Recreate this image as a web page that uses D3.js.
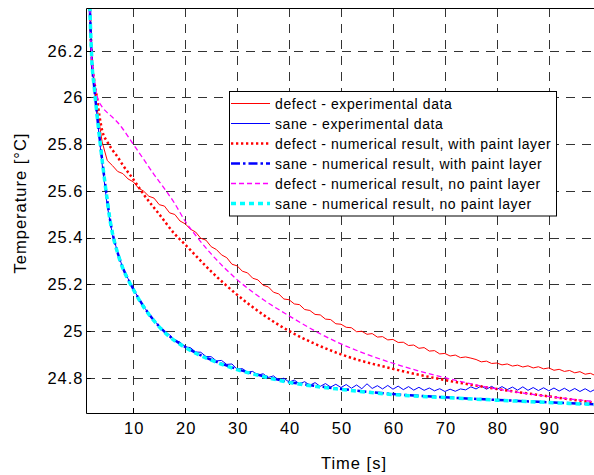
<!DOCTYPE html>
<html><head><meta charset="utf-8">
<script src="https://cdn.jsdelivr.net/npm/d3@7"></script>
<style>
body{margin:0;background:#fff}
text{font-family:"Liberation Sans",Arial,Helvetica,sans-serif;fill:#000}
</style>
</head><body>
<svg id="chart" width="594" height="475"></svg>
<script>
// ---------------- data ----------------
const xTickValues = [10, 20, 30, 40, 50, 60, 70, 80, 90];
const yTickValues = [24.8, 25, 25.2, 25.4, 25.6, 25.8, 26, 26.2];
const xLabel = "Time [s]";
const yLabel = "Temperature [°C]";
const seriesNames = [
  "defect - experimental data",
  "sane - experimental data",
  "defect - numerical result, with paint layer",
  "sane - numerical result, with paint layer",
  "defect - numerical result, no paint layer",
  "sane - numerical result, no paint layer"
];

// experimental data, sampled every second from t = 1 s
const expTime = d3.range(1, 101);
const defectExp = [
  26.90, 26.17, 25.96, 25.81, 25.73, 25.708, 25.683, 25.674, 25.651, 25.639,
  25.612, 25.599, 25.577, 25.569, 25.541, 25.535, 25.506, 25.499, 25.471, 25.459,
  25.436, 25.424, 25.397, 25.389, 25.361, 25.349, 25.326, 25.314, 25.286, 25.279,
  25.256, 25.249, 25.226, 25.219, 25.196, 25.189, 25.166, 25.159, 25.137, 25.134,
  25.116, 25.113, 25.092, 25.088, 25.071, 25.069, 25.051, 25.049, 25.031, 25.029,
  25.016, 25.014, 24.997, 24.999, 24.986, 24.989, 24.974, 24.976, 24.962, 24.964,
  24.951, 24.952, 24.938, 24.940, 24.926, 24.929, 24.914, 24.916, 24.902, 24.904,
  24.893, 24.897, 24.886, 24.889, 24.884, 24.878, 24.868, 24.871, 24.861, 24.863,
  24.855, 24.859, 24.850, 24.854, 24.846, 24.851, 24.842, 24.847, 24.838, 24.842,
  24.832, 24.836, 24.827, 24.831, 24.821, 24.826, 24.815, 24.819, 24.809, 24.813
];
const saneExp = [
  26.95, 26.15, 25.925, 25.715, 25.535, 25.412, 25.338, 25.268, 25.224, 25.178,
  25.143, 25.102, 25.079, 25.042, 25.024, 24.997, 24.984, 24.960, 24.953, 24.932,
  24.929, 24.910, 24.909, 24.891, 24.890, 24.872, 24.874, 24.857, 24.859, 24.836,
  24.839, 24.824, 24.827, 24.811, 24.817, 24.801, 24.808, 24.790, 24.798, 24.781,
  24.790, 24.774, 24.783, 24.768, 24.779, 24.763, 24.775, 24.760, 24.772, 24.758,
  24.771, 24.755, 24.769, 24.753, 24.774, 24.754, 24.766, 24.752, 24.767, 24.751,
  24.764, 24.749, 24.762, 24.747, 24.759, 24.746, 24.756, 24.744, 24.753, 24.741,
  24.751, 24.742, 24.752, 24.748, 24.761, 24.752, 24.765, 24.751, 24.763, 24.750,
  24.762, 24.749, 24.760, 24.747, 24.761, 24.746, 24.758, 24.745, 24.757, 24.744,
  24.756, 24.743, 24.755, 24.742, 24.754, 24.741, 24.753, 24.740, 24.751, 24.742
];

// numerical results
const defectPaintTime = [1, 1.5, 2, 2.5, 3, 3.5, 4, 5, 6, 7, 8, 10, 12, 15, 18, 20, 25, 30, 35, 40, 45, 50, 60, 70, 80, 90, 100];
const defectPaint     = [27.0, 26.5, 26.17, 26.07, 26.0, 25.92, 25.86, 25.81, 25.775, 25.745, 25.71, 25.65, 25.585, 25.50, 25.415, 25.37, 25.255, 25.155, 25.07, 25.0, 24.945, 24.90, 24.838, 24.79, 24.752, 24.72, 24.69];

const sanePaintTime = [1, 1.5, 2, 2.5, 3, 3.5, 4, 4.5, 5, 5.5, 6, 7, 8, 9, 10, 12, 14, 16, 18, 20, 22, 25, 30, 35, 40, 45, 50, 60, 70, 80, 90, 100];
const sanePaint     = [27.2, 26.52, 26.17, 26.04, 25.93, 25.83, 25.735, 25.645, 25.56, 25.48, 25.42, 25.335, 25.27, 25.222, 25.18, 25.105, 25.045, 24.997, 24.96, 24.932, 24.907, 24.877, 24.837, 24.807, 24.782, 24.765, 24.752, 24.73, 24.716, 24.705, 24.695, 24.685];

const defectNoPaintTime = [1, 1.5, 2, 2.5, 3, 4, 5, 6, 7, 8, 10, 12, 14, 16, 18, 20, 22, 25, 30, 35, 40, 45, 50, 55, 60, 70, 80, 90, 100];
const defectNoPaint     = [27.0, 26.5, 26.17, 26.08, 26.01, 25.96, 25.935, 25.915, 25.893, 25.865, 25.80, 25.735, 25.67, 25.61, 25.545, 25.47, 25.41, 25.33, 25.22, 25.135, 25.065, 25.0, 24.945, 24.90, 24.862, 24.80, 24.752, 24.72, 24.695];

const saneNoPaintTime = [1, 1.5, 2, 2.5, 3, 3.5, 4, 4.5, 5, 5.5, 6, 7, 8, 9, 10, 12, 14, 16, 18, 20, 22, 25, 30, 35, 40, 45, 50, 60, 70, 80, 90, 100];
const saneNoPaint     = [27.2, 26.52, 26.17, 26.04, 25.93, 25.83, 25.733, 25.643, 25.558, 25.478, 25.418, 25.333, 25.268, 25.22, 25.178, 25.103, 25.043, 24.995, 24.958, 24.93, 24.905, 24.875, 24.835, 24.805, 24.78, 24.763, 24.75, 24.728, 24.715, 24.704, 24.694, 24.684];

// ---------------- chart ----------------
const svg = d3.select("#chart");
svg.append("rect").attr("width", 594).attr("height", 475).attr("fill", "#fff");

const L = 86, T = 8, B = 413, R = 621.5;
const x = d3.scaleLinear().domain([0.9, 104]).range([L, R]);
const y = d3.scaleLinear().domain([24.649, 26.383]).range([B, T]);

// grid
const grid = svg.append("g").attr("stroke", "#333").attr("stroke-width", 1)
  .attr("stroke-dasharray", "9,7").attr("fill", "none");
grid.selectAll("line.gx").data(xTickValues).join("line")
  .attr("x1", d => Math.round(x(d)) + 0.5).attr("x2", d => Math.round(x(d)) + 0.5)
  .attr("y1", T).attr("y2", B);
grid.selectAll("line.gy").data(yTickValues).join("line")
  .attr("y1", d => Math.round(y(d)) + 0.5).attr("y2", d => Math.round(y(d)) + 0.5)
  .attr("x1", L).attr("x2", R);

// curves
svg.append("clipPath").attr("id", "clip").append("rect")
  .attr("x", L).attr("y", T).attr("width", R - L).attr("height", B - T);
const plot = svg.append("g").attr("clip-path", "url(#clip)");

function pairs(ts, vs) { return ts.map((t, i) => [t, vs[i]]); }
const lineLin = d3.line().x(d => x(d[0])).y(d => y(d[1]));
const lineSmooth = d3.line().x(d => x(d[0])).y(d => y(d[1])).curve(d3.curveMonotoneX);

const seriesData = [
  {pts: pairs(expTime, defectExp), gen: lineLin},
  {pts: pairs(expTime, saneExp), gen: lineLin},
  {pts: pairs(defectPaintTime, defectPaint), gen: lineSmooth},
  {pts: pairs(sanePaintTime, sanePaint), gen: lineSmooth},
  {pts: pairs(defectNoPaintTime, defectNoPaint), gen: lineSmooth},
  {pts: pairs(saneNoPaintTime, saneNoPaint), gen: lineSmooth}
];
const styles = [
  {color: "#ff0000", width: 1, dash: null},
  {color: "#0000ff", width: 1, dash: null},
  {color: "#ff0000", width: 2.5, dash: "2.3,2.7"},
  {color: "#0000ff", width: 2.5, dash: "9,3,2.5,3"},
  {color: "#ff00ff", width: 1.3, dash: "5,3"},
  {color: "#00ffff", width: 3.5, dash: "5,4"}
];
seriesData.forEach((s, i) => {
  plot.append("path").attr("d", s.gen(s.pts)).attr("fill", "none")
    .attr("stroke", styles[i].color).attr("stroke-width", styles[i].width)
    .attr("stroke-dasharray", styles[i].dash).attr("stroke-linejoin", "round");
});

// box and inward ticks
const ax = svg.append("g").attr("stroke", "#000").attr("stroke-width", 1).attr("fill", "none");
ax.append("path").attr("d", `M${R},${T + 0.5}H${L + 0.5}V${B + 0.5}H${R}`);
ax.selectAll("line.tx").data(xTickValues).join("line")
  .attr("x1", d => Math.round(x(d)) + 0.5).attr("x2", d => Math.round(x(d)) + 0.5)
  .attr("y1", B).attr("y2", B - 5);
ax.selectAll("line.ty").data(yTickValues).join("line")
  .attr("y1", d => Math.round(y(d)) + 0.5).attr("y2", d => Math.round(y(d)) + 0.5)
  .attr("x1", L).attr("x2", L + 5);

// tick labels via d3 axes
const xAxis = svg.append("g").attr("transform", `translate(0,${B})`)
  .call(d3.axisBottom(x).tickValues(xTickValues).tickSize(0).tickPadding(9).tickFormat(d3.format("d")));
const yAxis = svg.append("g").attr("transform", `translate(${L},0)`)
  .call(d3.axisLeft(y).tickValues(yTickValues).tickSize(0).tickPadding(2.5)
    .tickFormat(d => String(Math.round(d * 10) / 10)));
[xAxis, yAxis].forEach(g => {
  g.select(".domain").remove();
  g.selectAll("text").attr("font-size", 16.5).attr("letter-spacing", 1)
    .attr("font-family", '"Liberation Sans",Arial,Helvetica,sans-serif').attr("fill", "#000");
});
xAxis.selectAll("text").attr("dx", 0.5);

// axis labels
svg.append("text").attr("x", 354).attr("y", 469).attr("text-anchor", "middle")
  .attr("font-size", 16.5).attr("letter-spacing", 1).text(xLabel);
svg.append("text").attr("transform", "translate(25.5,203) rotate(-90)").attr("text-anchor", "middle")
  .attr("font-size", 16.5).attr("letter-spacing", 1).text(yLabel);

// legend
const lg = svg.append("g");
lg.append("rect").attr("x", 229.5).attr("y", 91.5).attr("width", 327).attr("height", 124.5)
  .attr("fill", "#fff").attr("stroke", "#000").attr("stroke-width", 1);
seriesNames.forEach((name, i) => {
  const ry = 103.5 + 20 * i;
  lg.append("line").attr("x1", 231).attr("x2", 270).attr("y1", ry).attr("y2", ry)
    .attr("stroke", styles[i].color).attr("stroke-width", styles[i].width)
    .attr("stroke-dasharray", styles[i].dash);
  lg.append("text").attr("x", 275).attr("y", ry + 5).attr("font-size", 14)
    .attr("letter-spacing", 0.6).text(name);
});
</script>
</body></html>
